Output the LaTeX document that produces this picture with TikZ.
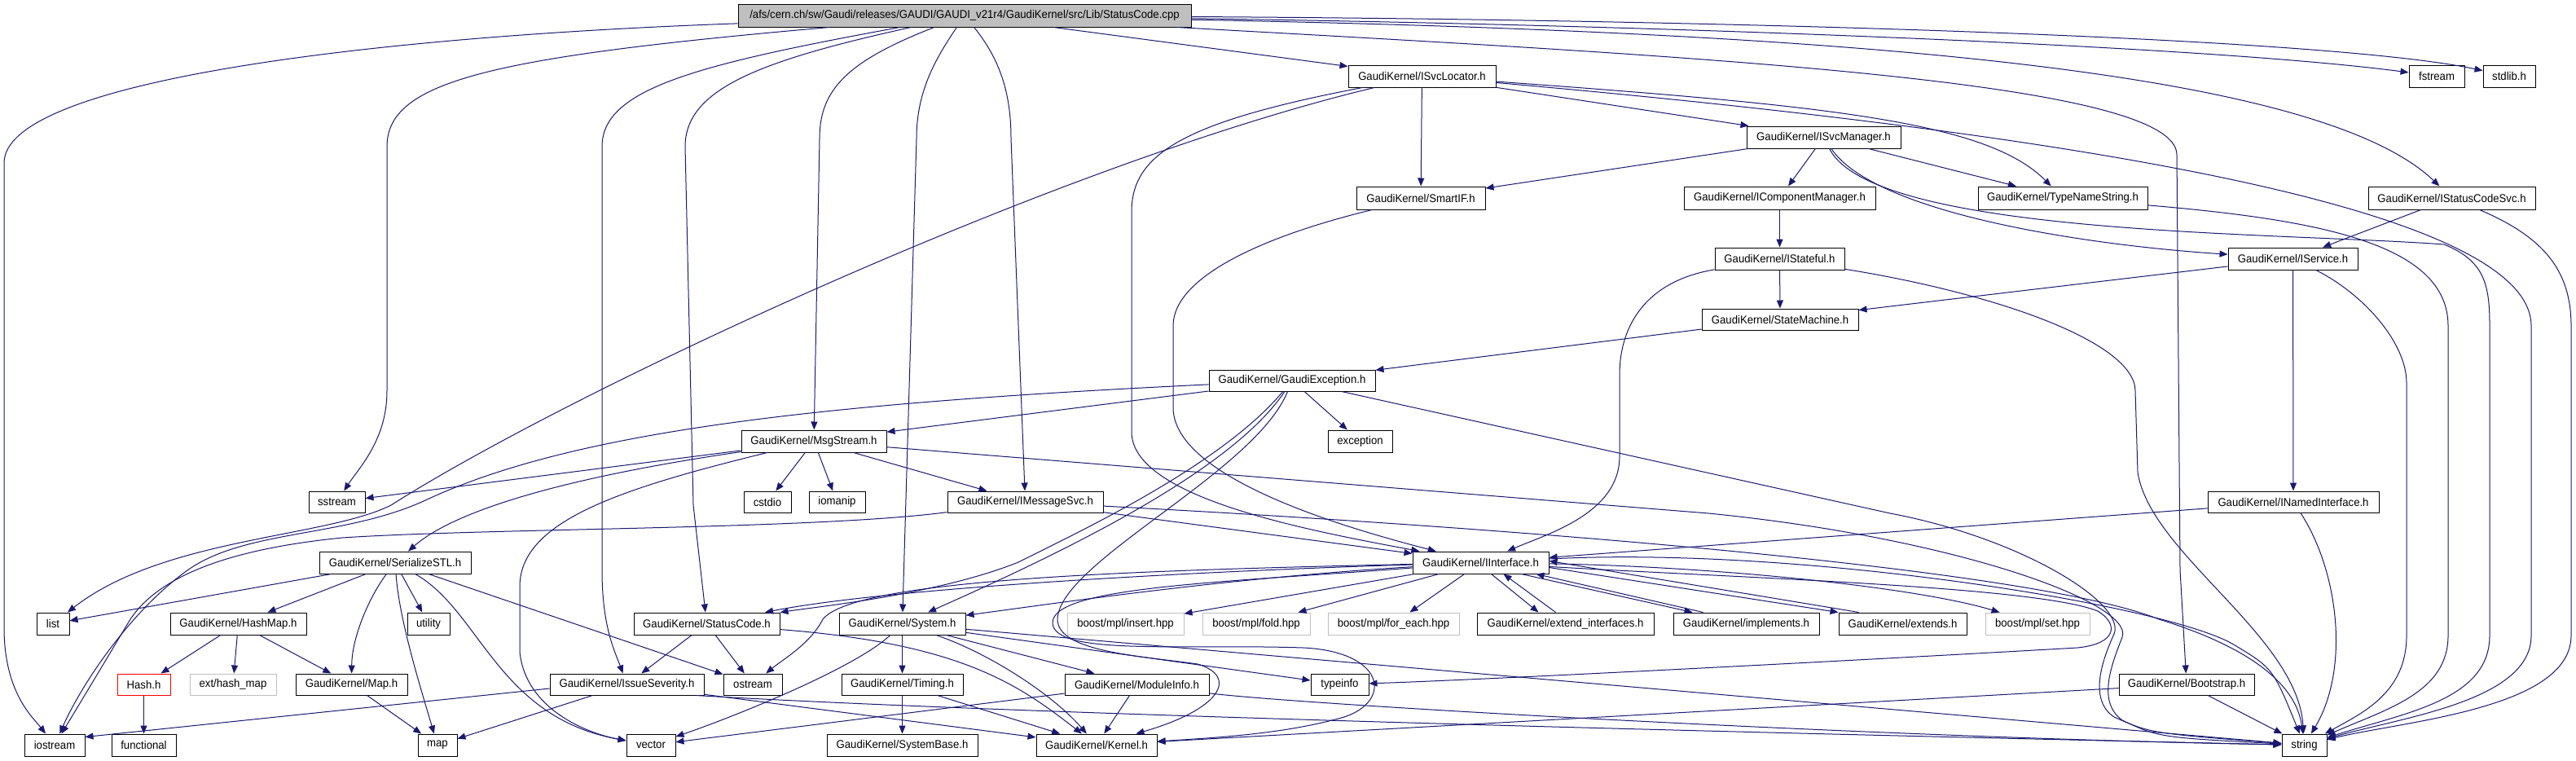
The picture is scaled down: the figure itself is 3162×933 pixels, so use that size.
\documentclass[tikz,border=0pt]{standalone}
\usepackage{fontspec}
\setmainfont{Liberation Sans}[FakeStretch=0.94]
\usetikzlibrary{arrows.meta,calc}
\definecolor{edgec}{HTML}{191970}
\definecolor{grayc}{HTML}{BFBFBF}
\tikzset{
  nbox/.style={draw=black,line width=0.5pt,rectangle,inner sep=0pt,font=\fontsize{7pt}{8pt}\selectfont,text=black},
  graybox/.style={draw=grayc},
  redbox/.style={draw=red},
  rootbox/.style={fill=grayc},
  dep/.style={draw=edgec,line width=0.5pt,-{Triangle[length=5pt,width=4pt]}},
}
\newcommand\gnode[7][]{\node[nbox,#1,minimum width={(#5-#3)*0.5pt},minimum height={(#6-#4)*0.5pt}] (#2) at ({(#3+#5)/2},{(#4+#6)/2}) {#7};}
\begin{document}
\begin{tikzpicture}[x=0.5pt,y=-0.5pt]
\fill[white] (0,0) rectangle (3162,933);
\useasboundingbox (0,0) rectangle (3162,933);
% nodes
\gnode[rootbox]{root}{906}{5}{1462}{33}{/afs/cern.ch/sw/Gaudi/releases/GAUDI/GAUDI\_v21r4/GaudiKernel/src/Lib/StatusCode.cpp}
\gnode{svcloc}{1655}{80}{1836}{107}{GaudiKernel/ISvcLocator.h}
\gnode{fstream}{2957}{80}{3025}{107}{fstream}
\gnode{stdlib}{3048}{80}{3112}{107}{stdlib.h}
\gnode{svcmgr}{2144}{155}{2333}{182}{GaudiKernel/ISvcManager.h}
\gnode{smartif}{1665}{229}{1823}{257}{GaudiKernel/SmartIF.h}
\gnode{compmgr}{2067}{229}{2302}{257}{GaudiKernel/IComponentManager.h}
\gnode{tns}{2428}{229}{2636}{257}{GaudiKernel/TypeNameString.h}
\gnode{scsvc}{2907}{229}{3112}{257}{GaudiKernel/IStatusCodeSvc.h}
\gnode{stateful}{2105}{304}{2264}{331}{GaudiKernel/IStateful.h}
\gnode{iservice}{2735}{304}{2894}{331}{GaudiKernel/IService.h}
\gnode{statemach}{2089}{379}{2281}{405}{GaudiKernel/StateMachine.h}
\gnode{gexc}{1484}{454}{1688}{480}{GaudiKernel/GaudiException.h}
\gnode{msgstream}{910}{528}{1088}{555}{GaudiKernel/MsgStream.h}
\gnode{exception}{1630}{528}{1709}{555}{exception}
\gnode{sstream}{379}{603}{448}{629}{sstream}
\gnode{cstdio}{913}{603}{971}{629}{cstdio}
\gnode{iomanip}{993}{603}{1062}{629}{iomanip}
\gnode{msgsvc}{1163}{603}{1354}{629}{GaudiKernel/IMessageSvc.h}
\gnode{named}{2710}{603}{2920}{629}{GaudiKernel/INamedInterface.h}
\gnode{sstl}{392}{677}{578}{704}{GaudiKernel/SerializeSTL.h}
\gnode{iiface}{1734}{677}{1901}{704}{GaudiKernel/IInterface.h}
\gnode{list}{45}{752}{85}{779}{list}
\gnode{hashmap}{209}{752}{376}{779}{GaudiKernel/HashMap.h}
\gnode{utility}{500}{752}{552}{779}{utility}
\gnode{statuscode}{778}{752}{957}{779}{GaudiKernel/StatusCode.h}
\gnode{system}{1030}{752}{1185}{779}{GaudiKernel/System.h}
\gnode[graybox]{insert}{1310}{752}{1453}{779}{boost/mpl/insert.hpp}
\gnode[graybox]{fold}{1476}{752}{1608}{779}{boost/mpl/fold.hpp}
\gnode[graybox]{foreach}{1630}{752}{1791}{779}{boost/mpl/for\_each.hpp}
\gnode{extif}{1813}{752}{2030}{779}{GaudiKernel/extend\_interfaces.h}
\gnode{implements}{2054}{752}{2233}{779}{GaudiKernel/implements.h}
\gnode{extends}{2257}{752}{2414}{779}{GaudiKernel/extends.h}
\gnode[graybox]{set}{2437}{752}{2565}{779}{boost/mpl/set.hpp}
\gnode[redbox]{hash}{144}{827}{209}{853}{Hash.h}
\gnode[graybox]{hashext}{233}{827}{339}{853}{ext/hash\_map}
\gnode{mapg}{363}{827}{500}{853}{GaudiKernel/Map.h}
\gnode{issue}{675}{827}{864}{853}{GaudiKernel/IssueSeverity.h}
\gnode{ostream}{888}{827}{960}{853}{ostream}
\gnode{timing}{1033}{827}{1182}{853}{GaudiKernel/Timing.h}
\gnode{modinfo}{1307}{827}{1484}{853}{GaudiKernel/ModuleInfo.h}
\gnode{typeinfo}{1609}{827}{1680}{853}{typeinfo}
\gnode{bootstrap}{2601}{827}{2767}{853}{GaudiKernel/Bootstrap.h}
\gnode{iostream}{30}{901}{104}{928}{iostream}
\gnode{functional}{137}{901}{216}{928}{functional}
\gnode{mapstd}{513}{901}{561}{928}{map}
\gnode{vector}{769}{901}{829}{928}{vector}
\gnode{sysbase}{1015}{901}{1200}{928}{GaudiKernel/SystemBase.h}
\gnode{kernel}{1272}{901}{1420}{928}{GaudiKernel/Kernel.h}
\gnode{string}{2801}{901}{2856}{928}{string}
% edges from the root file
\draw[dep] (root) .. controls (450,45) and (5,100) .. (5,200) -- (5,770) .. controls (5,850) and (40,880) .. (iostream);
\draw[dep] (root) .. controls (600,70) and (475,100) .. (475,180) -- (475,480) .. controls (475,540) and (440,575) .. (sstream);
\draw[dep] (root) .. controls (850,80) and (739,110) .. (739,180) -- (739,700) .. controls (739,770) and (755,800) .. (issue);
\draw[dep] (root) .. controls (930,75) and (841,110) .. (841,180) -- (851,620) -- (statuscode);
\draw[dep] (root) .. controls (1040,75) and (1006,110) .. (1006,170) -- (msgstream);
\draw[dep] (root) .. controls (1150,70) and (1125,110) .. (1125,170) -- (system);
\draw[dep] (root) .. controls (1225,70) and (1241,110) .. (1241,170) -- (msgsvc);
\draw[dep] (root) -- (svcloc);
\draw[dep] (root) .. controls (2000,30) and (2700,55) .. (fstream);
\draw[dep] (root) .. controls (2100,24) and (2850,45) .. (stdlib);
\draw[dep] (root) .. controls (2300,40) and (2850,90) .. (scsvc);
\draw[dep] (root) .. controls (2100,70) and (2672,100) .. (2672,190) -- (2676,700) -- (bootstrap);
% ISvcLocator
\draw[dep] (svcloc) -- (svcmgr);
\draw[dep] (svcloc) -- (smartif);
\draw[dep] (svcloc) .. controls (2250,130) and (2440,150) .. (tns);
\draw[dep] (svcloc) .. controls (2500,160) and (3107,250) .. (3107,400) -- (3107,780) .. controls (3107,860) and (2950,880) .. (string);
\draw[dep] (svcloc) .. controls (1300,200) and (700,480) .. (480,620) .. controls (400,660) and (200,660) .. (list);
\draw[dep] (svcloc) .. controls (1450,150) and (1389,190) .. (1389,260) -- (1389,530) .. controls (1389,610) and (1600,650) .. (iiface);
% SmartIF
\draw[dep] (smartif) .. controls (1550,290) and (1440,340) .. (1440,400) -- (1440,500) .. controls (1440,580) and (1620,640) .. (iiface);
% ISvcManager
\draw[dep] (svcmgr) -- (smartif);
\draw[dep] (svcmgr) -- (compmgr);
\draw[dep] (svcmgr) -- (tns);
\draw[dep] (svcmgr) .. controls (2300,260) and (2550,300) .. (iservice);
\draw[dep] (svcmgr) .. controls (2300,290) and (2800,285) .. (3000,300) .. controls (3050,320) and (3056,350) .. (3056,400) -- (3056,780) .. controls (3056,860) and (2950,875) .. (string);
% others upper
\draw[dep] (compmgr) -- (stateful);
\draw[dep] (tns) .. controls (2850,270) and (3005,300) .. (3005,400) -- (3005,780) .. controls (3005,850) and (2930,870) .. (string);
\draw[dep] (scsvc) -- (iservice);
\draw[dep] (scsvc) .. controls (3120,290) and (3156,330) .. (3156,400) -- (3156,780) .. controls (3156,870) and (2950,885) .. (string);
\draw[dep] (stateful) -- (statemach);
\draw[dep] (stateful) .. controls (2020,345) and (1988,400) .. (1988,460) -- (1988,560) .. controls (1988,630) and (1900,655) .. (iiface);
\draw[dep] (stateful) .. controls (2450,360) and (2621,420) .. (2621,480) -- (2624,580) .. controls (2640,680) and (2820,780) .. (string);
\draw[dep] (iservice) -- (statemach);
\draw[dep] (iservice) -- (named);
\draw[dep] (iservice) .. controls (2900,360) and (2954,420) .. (2954,470) -- (2954,780) .. controls (2954,850) and (2900,875) .. (string);
\draw[dep] (statemach) -- (gexc);
% GaudiException
\draw[dep] (gexc) -- (exception);
\draw[dep] (gexc) -- (msgstream);
\draw[dep] (gexc) .. controls (1000,495) and (700,530) .. (520,615) .. controls (420,660) and (300,650) .. (230,700) .. controls (160,750) and (100,840) .. (iostream);
\draw[dep] (gexc) .. controls (1500,570) and (1330,650) .. (1250,690) .. controls (1150,730) and (1000,745) .. (statuscode);
\draw[dep] (gexc) .. controls (1510,580) and (1300,680) .. (system);
\draw[dep] (gexc) .. controls (1540,580) and (1300,690) .. (1298,760) .. controls (1298,800) and (1400,805) .. (1470,815) .. controls (1520,830) and (1500,870) .. (kernel);
\draw[dep] (gexc) -- (2320,630) .. controls (2480,660) and (2610,740) .. (2595,778) .. controls (2578,815) and (2565,860) .. (2595,880) .. controls (2640,900) .. (string);
% MsgStream
\draw[dep] (msgstream) -- (sstream);
\draw[dep] (msgstream) -- (cstdio);
\draw[dep] (msgstream) -- (iomanip);
\draw[dep] (msgstream) -- (msgsvc);
\draw[dep] (msgstream) .. controls (700,585) and (560,625) .. (sstl);
\draw[dep] (msgstream) .. controls (760,600) and (638,640) .. (638,720) -- (638,800) .. controls (645,870) and (720,900) .. (vector);
\draw[dep] (msgstream) -- (2097,630) .. controls (2400,660) and (2620,740) .. (2605,782) .. controls (2590,820) and (2575,862) .. (2605,884) .. controls (2650,905) .. (string);
% IMessageSvc
\draw[dep] (msgsvc) .. controls (1000,650) and (600,648) .. (420,660) .. controls (300,672) and (200,700) .. (160,760) .. controls (130,810) and (100,860) .. (iostream);
\draw[dep] (msgsvc) -- (iiface);
\draw[dep] (msgsvc) .. controls (1900,650) and (2500,700) .. (2650,760) .. controls (2780,800) and (2820,850) .. (string);
% INamedInterface
\draw[dep] (named) -- (iiface);
\draw[dep] (named) .. controls (2870,700) and (2885,820) .. (string);
% SerializeSTL
\draw[dep] (sstl) -- (list);
\draw[dep] (sstl) -- (hashmap);
\draw[dep] (sstl) .. controls (455,730) and (432,780) .. (mapg);
\draw[dep] (sstl) .. controls (490,760) and (515,840) .. (mapstd);
\draw[dep] (sstl) -- (utility);
\draw[dep] (sstl) .. controls (590,750) and (610,880) .. (vector);
\draw[dep] (sstl) -- (ostream);
% HashMap, Hash, Map
\draw[dep] (hashmap) -- (hash);
\draw[dep] (hashmap) -- (hashext);
\draw[dep] (hashmap) -- (mapg);
\draw[dep] (hash) -- (functional);
\draw[dep] (mapg) -- (mapstd);
% IssueSeverity
\draw[dep] ($(issue.west)+(0,5)$) -- ($(iostream.north east)+(0,4)$);
\draw[dep] (issue) -- (mapstd);
\draw[dep] (issue) -- (kernel);
\draw[dep] ($(issue.south east)+(-10,0)$) .. controls (1300,880) and (2400,905) .. (string);
% StatusCode
\draw[dep] (statuscode) -- (issue);
\draw[dep] (statuscode) -- (ostream);
\draw[dep] (statuscode) .. controls (1180,790) and (1250,840) .. (kernel);
% System
\draw[dep] (system) -- (timing);
\draw[dep] (system) .. controls (1210,800) and (1290,850) .. (kernel);
\draw[dep] (system) -- (modinfo);
\draw[dep] (system) .. controls (1050,820) and (900,880) .. (vector);
\draw[dep] (system) -- (typeinfo);
\draw[dep] (system) -- (string);
% Timing, ModuleInfo, Bootstrap
\draw[dep] (timing) -- (sysbase);
\draw[dep] (timing) -- (kernel);
\draw[dep] (modinfo) -- (kernel);
\draw[dep] (modinfo) -- (vector);
\draw[dep] (modinfo) .. controls (1600,865) and (2300,905) .. (string);
\draw[dep] (bootstrap) -- (kernel);
\draw[dep] (bootstrap) -- (string);
% IInterface
\draw[dep] (iiface) .. controls (1500,700) and (1100,720) .. (statuscode);
\draw[dep] (iiface) .. controls (1500,710) and (1300,740) .. (system);
\draw[dep] (iiface) .. controls (1400,700) and (1050,710) .. (1010,760) .. controls (995,790) and (960,810) .. (ostream);
\draw[dep] (iiface) -- (insert);
\draw[dep] (iiface) -- (fold);
\draw[dep] (iiface) -- (foreach);
\draw[dep] ($(iiface.south)+(13,0)$) -- ($(extif.north)+(-33,0)$);
\draw[dep] ($(extif.north)+(-12,0)$) -- ($(iiface.south)+(28,0)$);
\draw[dep] ($(iiface.south)+(50,0)$) -- ($(implements.north)+(-66,0)$);
\draw[dep] ($(implements.north)+(-53,0)$) -- ($(iiface.south)+(68,0)$);
\draw[dep] ($(iiface.east)+(0,6)$) -- (extends.north west);
\draw[dep] ($(extends.north west)+(25,0)$) -- ($(iiface.east)+(0,-2)$);
\draw[dep] (iiface) .. controls (2100,695) and (2350,720) .. (set);
\draw[dep] (iiface) .. controls (2150,710) and (2500,720) .. (2575,750) .. controls (2600,765) and (2600,790) .. (2550,795) .. controls (2200,815) and (1800,835) .. (typeinfo);
\draw[dep] (iiface) .. controls (1500,715) and (1290,720) .. (1292,765) .. controls (1295,805) and (1450,790) .. (1600,795) .. controls (1700,800) and (1710,860) .. (1650,880) .. controls (1580,900) and (1500,905) .. (kernel);
\draw[dep] (iiface) .. controls (2200,670) and (2650,740) .. (2740,790) .. controls (2790,820) .. (string);
\end{tikzpicture}
\end{document}
